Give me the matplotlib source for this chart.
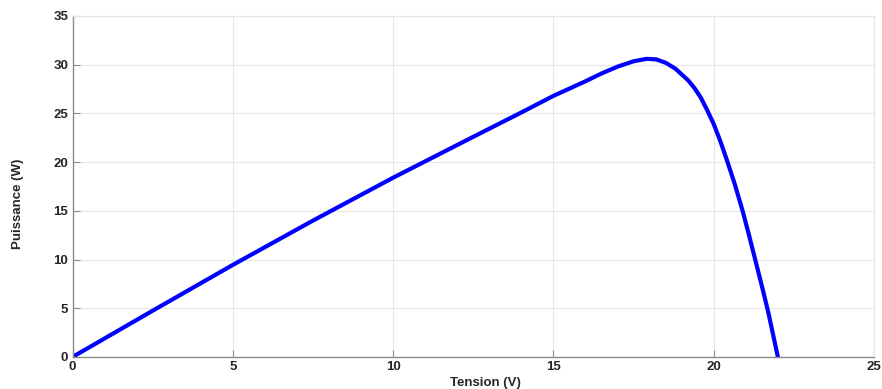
import matplotlib.pyplot as plt
import numpy as np

# P-V curve
tension = [0, 2.5, 5, 7.5, 10, 12.5, 14, 15, 16, 16.5, 17, 17.5, 17.9, 18.2,
           18.5, 18.8, 19.0, 19.2, 19.4, 19.6, 19.8, 20.0, 20.2, 20.4, 20.65,
           20.9, 21.1, 21.3, 21.5, 21.7, 21.85, 22.0]
puissance = [0, 4.75, 9.45, 14.0, 18.4, 22.6, 25.1, 26.8, 28.3, 29.1, 29.8,
             30.35, 30.6, 30.55, 30.2, 29.6, 29.0, 28.4, 27.6, 26.6, 25.3,
             23.9, 22.2, 20.3, 17.8, 15.0, 12.5, 9.9, 7.3, 4.6, 2.3, 0]
xticks = [0, 5, 10, 15, 20, 25]
yticks = [0, 5, 10, 15, 20, 25, 30, 35]

plt.rcParams['font.family'] = ['Liberation Sans', 'DejaVu Sans']

fig = plt.figure(figsize=(8.82, 3.89), dpi=100)
ax = fig.add_axes([0.0822, 0.0823, 0.9088, 0.8766])

ax.plot(tension, puissance, color='#0000ff', lw=3, solid_capstyle='round',
        solid_joinstyle='round')

ax.set_xlim(0, 25)
ax.set_ylim(0, 35)
ax.set_xticks(xticks)
ax.set_yticks(yticks)
ax.grid(True, color='#e6e6e6', lw=0.8)
ax.set_axisbelow(True)

for s in ['left', 'bottom']:
    ax.spines[s].set_color('#8c8c8c')
    ax.spines[s].set_linewidth(1.0)
for s in ['top', 'right']:
    ax.spines[s].set_color('#e6e6e6')
    ax.spines[s].set_linewidth(0.8)

ax.tick_params(direction='in', length=5, width=0.8, color='#8c8c8c',
               labelsize=9.5, labelcolor='#262626', pad=3)
for lab in ax.get_xticklabels() + ax.get_yticklabels():
    lab.set_fontweight('bold')

ax.set_xlabel('Tension (V)', fontsize=9.5, fontweight='bold', color='#262626')
ax.xaxis.set_label_coords(0.515, -0.058)
ax.set_ylabel('Puissance (W)', fontsize=9.5, fontweight='bold', color='#262626')
ax.yaxis.set_label_coords(-0.06, 0.45)

fig.savefig('out.png', dpi=100)
